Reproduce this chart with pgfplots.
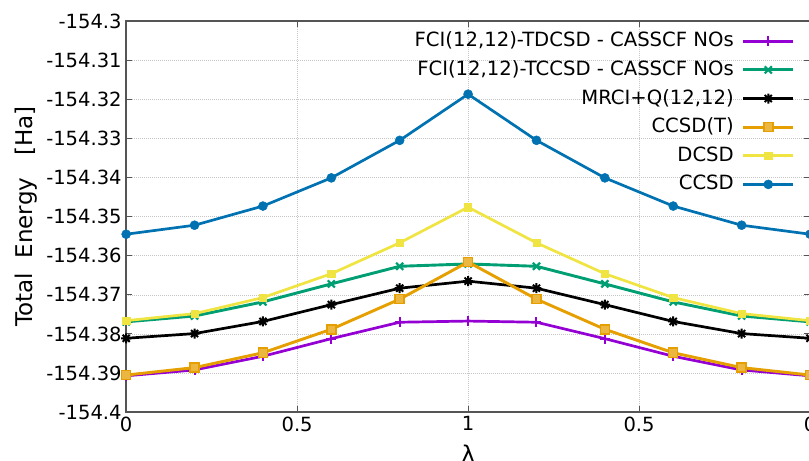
\documentclass[border=0pt]{standalone}
\usepackage{pgfplots}
\pgfplotsset{compat=1.18}
\usepackage{fontspec}
\setmainfont{DejaVu Sans}

\definecolor{cTD}{HTML}{9400D3}
\definecolor{cTC}{HTML}{009E73}
\definecolor{cCT}{HTML}{E69F00}
\definecolor{cDC}{HTML}{F0E442}
\definecolor{cCC}{HTML}{0072B2}
\definecolor{axgray}{HTML}{555555}

\pgfdeclareplotmark{star8}{%
  \pgfpathmoveto{\pgfqpoint{-\pgfplotmarksize}{0pt}}\pgfpathlineto{\pgfqpoint{\pgfplotmarksize}{0pt}}%
  \pgfpathmoveto{\pgfqpoint{0pt}{-\pgfplotmarksize}}\pgfpathlineto{\pgfqpoint{0pt}{\pgfplotmarksize}}%
  \pgfpathmoveto{\pgfqpoint{-.707\pgfplotmarksize}{-.707\pgfplotmarksize}}\pgfpathlineto{\pgfqpoint{.707\pgfplotmarksize}{.707\pgfplotmarksize}}%
  \pgfpathmoveto{\pgfqpoint{-.707\pgfplotmarksize}{.707\pgfplotmarksize}}\pgfpathlineto{\pgfqpoint{.707\pgfplotmarksize}{-.707\pgfplotmarksize}}%
  \pgfusepathqstroke}

\pgfplotsset{layers/mylayers/.define layer set={axis background,axis grid,pre main,main,axis ticks,axis lines,axis tick labels,axis descriptions,axis foreground}{}}

\begin{document}
\begin{tikzpicture}
\begin{axis}[
  set layers=mylayers,
  at={(0pt,0pt)}, anchor=south west,
  scale only axis, width=683pt, height=390.7pt,
  xmin=0, xmax=2, ymin=-154.4, ymax=-154.3,
  clip=false,
  xtick={0,0.5,1,1.5,2},
  xticklabels={0,0.5,1,0.5,0},
  ytick={-154.4,-154.39,-154.38,-154.37,-154.36,-154.35,-154.34,-154.33,-154.32,-154.31,-154.3},
  yticklabels={-154.4,-154.39,-154.38,-154.37,-154.36,-154.35,-154.34,-154.33,-154.32,-154.31,-154.3},
  /pgf/number format/assume math mode=true,
  tick pos=both, tick align=inside,
  major tick length=6pt,
  tick style={axgray, line width=1pt},
  axis line style={axgray, line width=1.5pt},
  grid=major,
  major grid style={gray!45, line width=0.6pt, dash pattern=on 1pt off 1pt},
  ticklabel style={font=\fontsize{19.5}{21}\selectfont, text=black},
  xticklabel style={yshift=-1pt},
  yticklabel style={xshift=-1pt},
  xlabel={λ},
  ylabel={Total\ \ Energy\ \ \ [Ha]},
  label style={font=\fontsize{23}{25}\selectfont},
  xlabel style={at={(axis description cs:0.5,0)}, anchor=center, yshift=-41pt},
  ylabel style={at={(axis description cs:-0.1464,0.5)}, anchor=center},
  legend plot pos=right,
  legend cell align=right,
  legend style={at={(rel axis cs:1,1)}, anchor=north east, xshift=-15pt, yshift=-10.5pt,
    draw=none, fill=none, inner xsep=0pt, inner ysep=0pt,
    font=\fontsize{19.6}{21}\selectfont,
    row sep=9.6pt, column sep=8pt,
    nodes={inner sep=0pt, text height=15pt, text depth=4pt}},
  legend image code/.code={\draw[mark repeat=2,mark phase=2] plot coordinates {(0pt,0pt)(25pt,0pt)(50pt,0pt)};},
]
\pgfplotsextra{%
\begin{pgfonlayer}{pre main}
\fill[white] (rel axis cs:0.4275,0.5495) rectangle (rel axis cs:1,1);
\end{pgfonlayer}}

\addplot[cTD, mark=+, mark size=5pt, mark options={line width=2pt}, line width=2.7pt] coordinates {
(0,-154.3907)(0.2,-154.3892)(0.4,-154.3857)(0.6,-154.3812)(0.8,-154.3770)(1,-154.3767)
(1.2,-154.3770)(1.4,-154.3812)(1.6,-154.3857)(1.8,-154.3892)(2,-154.3907)};
\addlegendentry{FCI(12,12)-TDCSD - CASSCF NOs}

\addplot[cTC, mark=x, mark size=5pt, mark options={line width=2.2pt}, line width=2.9pt] coordinates {
(0,-154.3769)(0.2,-154.3754)(0.4,-154.3718)(0.6,-154.3672)(0.8,-154.3627)(1,-154.3621)
(1.2,-154.3627)(1.4,-154.3672)(1.6,-154.3718)(1.8,-154.3754)(2,-154.3769)};
\addlegendentry{FCI(12,12)-TCCSD - CASSCF NOs}

\addplot[black, mark=star8, mark size=5pt, mark options={line width=2pt}, line width=2.7pt] coordinates {
(0,-154.3811)(0.2,-154.3799)(0.4,-154.3768)(0.6,-154.3725)(0.8,-154.3683)(1,-154.3665)
(1.2,-154.3683)(1.4,-154.3725)(1.6,-154.3768)(1.8,-154.3799)(2,-154.3811)};
\addlegendentry{MRCI+Q(12,12)}

\addplot[cCT, mark=square*, mark size=4.5pt, mark options={line width=1.5pt, fill=cCT!75!white}, line width=2.9pt] coordinates {
(0,-154.3905)(0.2,-154.3886)(0.4,-154.3848)(0.6,-154.3788)(0.8,-154.3711)(1,-154.3616)
(1.2,-154.3711)(1.4,-154.3788)(1.6,-154.3848)(1.8,-154.3886)(2,-154.3905)};
\addlegendentry{CCSD(T)}

\addplot[cDC, mark=square*, mark size=3.6pt, mark options={line width=0.5pt}, line width=2.7pt] coordinates {
(0,-154.3766)(0.2,-154.3748)(0.4,-154.3707)(0.6,-154.3646)(0.8,-154.3567)(1,-154.3476)
(1.2,-154.3567)(1.4,-154.3646)(1.6,-154.3707)(1.8,-154.3748)(2,-154.3766)};
\addlegendentry{DCSD}

\addplot[cCC, mark=*, mark size=4.5pt, mark options={line width=0.5pt}, line width=2.7pt] coordinates {
(0,-154.3545)(0.2,-154.3522)(0.4,-154.3473)(0.6,-154.3401)(0.8,-154.3305)(1,-154.3187)
(1.2,-154.3305)(1.4,-154.3401)(1.6,-154.3473)(1.8,-154.3522)(2,-154.3545)};
\addlegendentry{CCSD}
\end{axis}
\pgfresetboundingbox
\path[use as bounding box] (-126pt,-48.3pt) rectangle (682pt,411.7pt);
\end{tikzpicture}
\end{document}
